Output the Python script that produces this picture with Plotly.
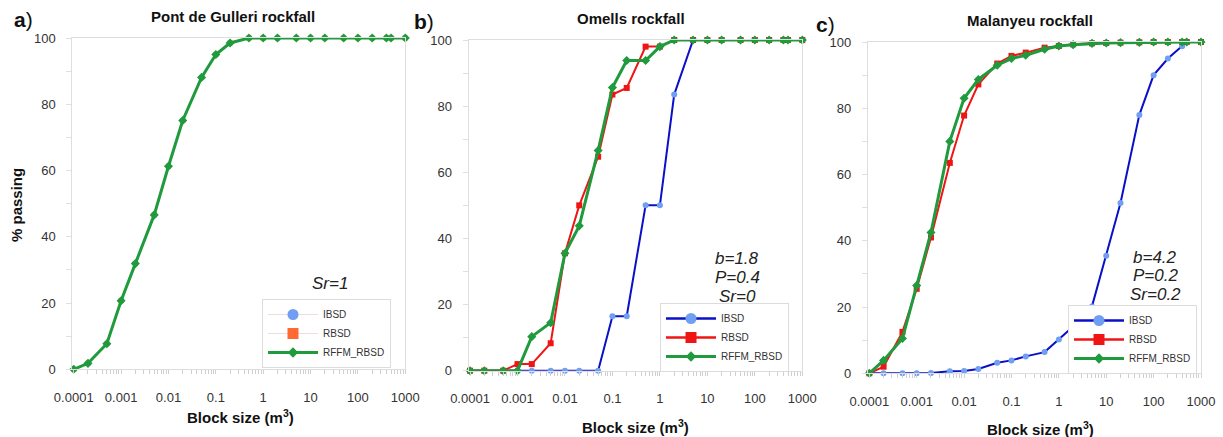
import plotly.graph_objects as go

# Block sizes (m3) at which the cumulative curves are sampled
sizes = [0.0001, 0.0002, 0.0005, 0.001, 0.002, 0.005, 0.01, 0.02, 0.05, 0.1, 0.2,
         0.5, 1, 2, 5, 10, 20, 50, 100, 200, 400, 500, 1000]

# Pont de Gulleri rockfall (% passing)
gulleri_rffm = [0, 1.8, 7.7, 20.7, 31.9, 46.6, 61.3, 75.1, 88.1, 95.0, 98.5,
                100, 100, 100, 100, 100, 100, 100, 100, 100, 100, 100, 100]
gulleri_rbsd = [0, 1.8, 7.7, 20.7, 31.9, 46.6, 61.3, 75.1, 88.1, 95.0, 98.5,
                100, 100, 100, 100, 100, 100, 100, 100, 100, 100, 100, 100]
gulleri_ibsd = [0, 1.8, 7.7, 20.7, 31.9, 46.6, 61.3, 75.1, 88.1, 95.0, 98.5,
                100, 100, 100, 100, 100, 100, 100, 100, 100, 100, 100, 100]

# Omells rockfall (% passing)
omells_ibsd = [0, 0, 0, 0, 0, 0, 0, 0, 0, 16.5, 16.5, 50, 50, 83.5,
               100, 100, 100, 100, 100, 100, 100, 100, 100]
omells_rbsd = [0, 0, 0, 2, 2, 8.3, 35.5, 50, 64.7, 83.5, 85.5, 98, 98,
               100, 100, 100, 100, 100, 100, 100, 100, 100, 100]
omells_rffm = [0, 0, 0, 0, 10.3, 14.5, 35.5, 43.8, 66.6, 85.6, 93.8, 93.8, 98,
               100, 100, 100, 100, 100, 100, 100, 100, 100, 100]

# Malanyeu rockfall (% passing)
malanyeu_ibsd = [0, 0, 0, 0, 0.1, 0.6, 0.7, 1.3, 3.2, 3.9, 5.1, 6.4, 10.2, 14.1,
                 20.2, 35.5, 51.4, 78, 90, 95, 98.7, 100, 100]
malanyeu_rbsd = [0, 2, 12.5, 25.5, 41, 63.5, 77.8, 87.2, 93.5, 95.8, 96.8, 98.3,
                 98.8, 99.3, 99.6, 99.7, 99.8, 99.9, 100, 100, 100, 100, 100]
malanyeu_rffm = [0, 3.9, 10.5, 26.5, 42.5, 70, 83, 88.7, 93, 95, 96, 97.8,
                 98.8, 99.2, 99.6, 99.7, 99.8, 99.9, 100, 100, 100, 100, 100]

x_tickvals = [0.0001, 0.001, 0.01, 0.1, 1, 10, 100, 1000]
x_ticktext = ["0.0001", "0.001", "0.01", "0.1", "1", "10", "100", "1000"]
y_tickvals = [0, 20, 40, 60, 80, 100]

panel_titles = ["Pont de Gulleri rockfall", "Omells rockfall", "Malanyeu rockfall"]
panel_letters = ["a", "b", "c"]
panel_notes = [["Sr=1"], ["b=1.8", "P=0.4", "Sr=0"], ["b=4.2", "P=0.2", "Sr=0.2"]]

W, H = 1223, 437
FONT = "Liberation Sans, Arial, sans-serif"

GREEN = "#1f9a3c"
RED = "#f01414"
BLUE_LINE = "#0a10c8"
BLUE_MK = "#6f9ef2"
ORANGE_MK = "#ff6a33"
FAINT = "rgba(235,205,205,0.7)"

# Pixel geometry of each panel: (left, right, top, bottom)
boxes = [(72.3, 405.3, 38, 369.3), (468.6, 802.3, 40, 370.7), (867.9, 1201.0, 42, 373.3)]
X_RANGE = [-4.03, 3]

fig = go.Figure()


def add_curve(ax, y, name, line_color, line_width, symbol, mk_color, mk_size, legend):
    xa = "x" if ax == 1 else f"x{ax}"
    ya = "y" if ax == 1 else f"y{ax}"
    fig.add_trace(go.Scatter(
        x=sizes, y=y, mode="lines+markers", name=name, showlegend=False,
        xaxis=xa, yaxis=ya, cliponaxis=False,
        line=dict(color=line_color, width=line_width),
        marker=dict(symbol=symbol, color=mk_color, size=mk_size, line=dict(width=0)),
    ))
    # key entry drawn with a larger marker
    fig.add_trace(go.Scatter(
        x=[None], y=[None], mode="lines+markers", name=name, legend=legend,
        xaxis=xa, yaxis=ya,
        line=dict(color=line_color, width=max(line_width, 2.5) if line_color[0] == "#" else 1),
        marker=dict(symbol=symbol, color=mk_color,
                    size=11 if symbol != "diamond" else 8, line=dict(width=0)),
    ))


# Panel a
add_curve(1, gulleri_ibsd, "IBSD", FAINT, 1, "circle", BLUE_MK, 5, "legend")
add_curve(1, gulleri_rbsd, "RBSD", FAINT, 1, "square", ORANGE_MK, 5, "legend")
add_curve(1, gulleri_rffm, "RFFM_RBSD", GREEN, 3, "diamond", GREEN, 7, "legend")
# Panel b
add_curve(2, omells_ibsd, "IBSD", BLUE_LINE, 2, "circle", BLUE_MK, 6, "legend2")
add_curve(2, omells_rbsd, "RBSD", RED, 2, "square", RED, 6, "legend2")
add_curve(2, omells_rffm, "RFFM_RBSD", GREEN, 3, "diamond", GREEN, 7, "legend2")
# Panel c
add_curve(3, malanyeu_ibsd, "IBSD", BLUE_LINE, 2, "circle", BLUE_MK, 6, "legend3")
add_curve(3, malanyeu_rbsd, "RBSD", RED, 2, "square", RED, 6, "legend3")
add_curve(3, malanyeu_rffm, "RFFM_RBSD", GREEN, 3, "diamond", GREEN, 7, "legend3")

layout = dict(
    width=W, height=H, margin=dict(l=0, r=0, t=0, b=0, autoexpand=False),
    paper_bgcolor="white", plot_bgcolor="white",
    font=dict(family=FONT, size=13, color="#333"),
    annotations=[],
)

legend_common = dict(
    bgcolor="white", bordercolor="#dcdcdc", borderwidth=1,
    font=dict(family=FONT, size=10, color="#333"),
    xanchor="right", yanchor="bottom", tracegroupgap=0, itemwidth=50,
)
legend_boxes = [(391, 368), (789, 372), (1197, 374)]
for i, (lx, ly) in enumerate(legend_boxes):
    key = "legend" if i == 0 else f"legend{i + 1}"
    layout[key] = dict(legend_common, x=lx / W, y=1 - ly / H)

note_x = [330, 737, 1155]
note_y = [[283], [258, 277, 296], [257, 275, 294]]

for i, (l, r, t, b) in enumerate(boxes):
    n = "" if i == 0 else str(i + 1)
    layout[f"xaxis{n}"] = dict(
        type="log", range=X_RANGE, domain=[l / W, r / W], automargin=False,
        anchor=f"y{n}", showgrid=False, zeroline=False,
        showline=True, mirror=True, linecolor="#dedede", linewidth=1,
        tickvals=x_tickvals, ticktext=x_ticktext,
        ticks="outside", ticklen=4, tickcolor="#d0d0d0",
        ticklabelstandoff=12,
        tickfont=dict(family=FONT, size=13, color="#333"),
        minor=dict(ticks="outside", ticklen=4, tickcolor="#d0d0d0", dtick="D1",
                   showgrid=False),
    )
    layout[f"yaxis{n}"] = dict(
        range=[0, 100], domain=[1 - b / H, 1 - t / H], automargin=False,
        anchor=f"x{n}", showgrid=False, zeroline=False,
        showline=True, mirror=True, linecolor="#dedede", linewidth=1,
        tickvals=y_tickvals, ticks="outside", ticklen=5, tickcolor="#e0e0e0",
        ticklabelstandoff=8,
        tickfont=dict(family=FONT, size=13, color="#333"),
        minor=dict(ticks="outside", ticklen=5, tickcolor="#e0e0e0", dtick=10,
                   showgrid=False),
    )

    ann = layout["annotations"]
    # panel title
    ann.append(dict(text=f"<b>{panel_titles[i]}</b>", xref="paper", yref="paper",
                    x=[233, 631, 1030][i] / W, y=1 - [17, 19, 21][i] / H,
                    showarrow=False, font=dict(family=FONT, size=15, color="#111"),
                    xanchor="center", yanchor="middle"))
    # panel letter
    ann.append(dict(text=f"<b>{panel_letters[i]}</b>)", xref="paper", yref="paper",
                    x=[12, 412, 814][i] / W, y=1 - [20, 22, 24][i] / H,
                    showarrow=False, font=dict(family=FONT, size=21, color="#111"),
                    xanchor="left", yanchor="middle"))
    # x-axis title
    ann.append(dict(text="<b>Block size (m<sup>3</sup>)</b>", xref="paper", yref="paper",
                    x=[240, 636, 1040][i] / W, y=1 - [416, 426, 428][i] / H,
                    showarrow=False, font=dict(family=FONT, size=15, color="#111"),
                    xanchor="center", yanchor="middle"))
    # model parameters, one line per annotation
    for line, ly in zip(panel_notes[i], note_y[i]):
        ann.append(dict(text=f"<i>{line}</i>", xref="paper", yref="paper",
                        x=note_x[i] / W, y=1 - ly / H,
                        showarrow=False, font=dict(family=FONT, size=17, color="#222"),
                        xanchor="center", yanchor="middle"))

layout["annotations"].append(dict(
    text="<b>% passing</b>", xref="paper", yref="paper", x=17 / W, y=1 - 205 / H,
    textangle=-90, showarrow=False, font=dict(family=FONT, size=15, color="#111"),
    xanchor="center", yanchor="middle"))

fig.update_layout(**layout)
fig.write_html("out.html")
